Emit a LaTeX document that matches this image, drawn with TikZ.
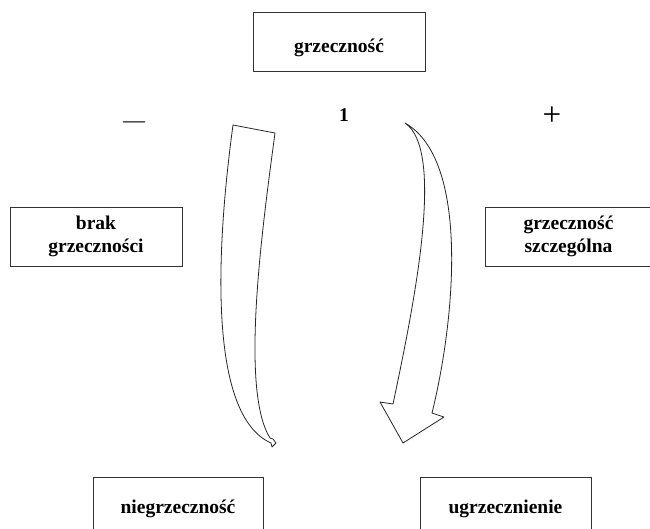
\documentclass[tikz,border=0pt]{standalone}
\usepackage{fontspec}
\setmainfont{Liberation Serif}
\usetikzlibrary{arrows,shapes}
\tikzstyle{box}=[draw=black!80,line width=0.9pt,font=\fontsize{19.5}{23}\selectfont\bfseries,align=center,inner sep=0pt]
\tikzstyle{sign}=[inner sep=0pt]
\tikzstyle{bent} = [draw=black!85,line width=0.8pt,line join=round]

\begin{document}
\begin{tikzpicture}[x=1pt,y=-1pt]
        \clip (0,0) rectangle (650,528);
        % boxes
        \node[box,minimum width=172pt,minimum height=59pt,text height=27pt,text depth=5pt] (top) at (339,41.5) {grzeczność};
        \node[box,minimum width=172pt,minimum height=59pt] (brak) at (96,236.5) {brak\\grzeczności};
        \node[box,minimum width=167pt,minimum height=59pt] (szcz) at (568.5,236.5) {grzeczność\\szczególna};
        \node[box,minimum width=170pt,minimum height=63pt] (nie) at (178,508.5) {niegrzeczność};
        \node[box,minimum width=171pt,minimum height=63pt] (ugrz) at (505.5,508.5) {ugrzecznienie};
        % signs
        \node[sign,font=\fontsize{22}{22}\selectfont] (minus) at (134,125) {—};
        \node[sign,font=\fontsize{19.5}{23}\selectfont\bfseries] (one) at (344,115) {1};
        \node[sign,font=\fontsize{33}{33}\selectfont] (plus) at (552,116) {+};
        % thin arrow
        \coordinate (la) at (233,125);
        \coordinate (lb) at (275,133);
        \coordinate (lc) at (270,438);
        \coordinate (ld) at (271,443);
        \draw[bent] (la) -- (lb) .. controls (262,230) and (240,390) .. (lc)
                -- (273,439) -- (276,443) -- (272,447) -- (ld)
                .. controls (208,415) and (216,250) .. (la) -- cycle;
        % wide arrow
        \coordinate (rtop) at (405,123);
        \coordinate (rtip) at (403,443);
        \coordinate (rin) at (393,404);
        \coordinate (rout) at (432,413);
        \draw[bent] (rtip) -- (380,402) -- (rin) .. controls (415,300) and (445,150) .. (rtop)
                .. controls (470,160) and (455,320) .. (rout) -- (444,417) -- cycle;
      \end{tikzpicture}
\end{document}
